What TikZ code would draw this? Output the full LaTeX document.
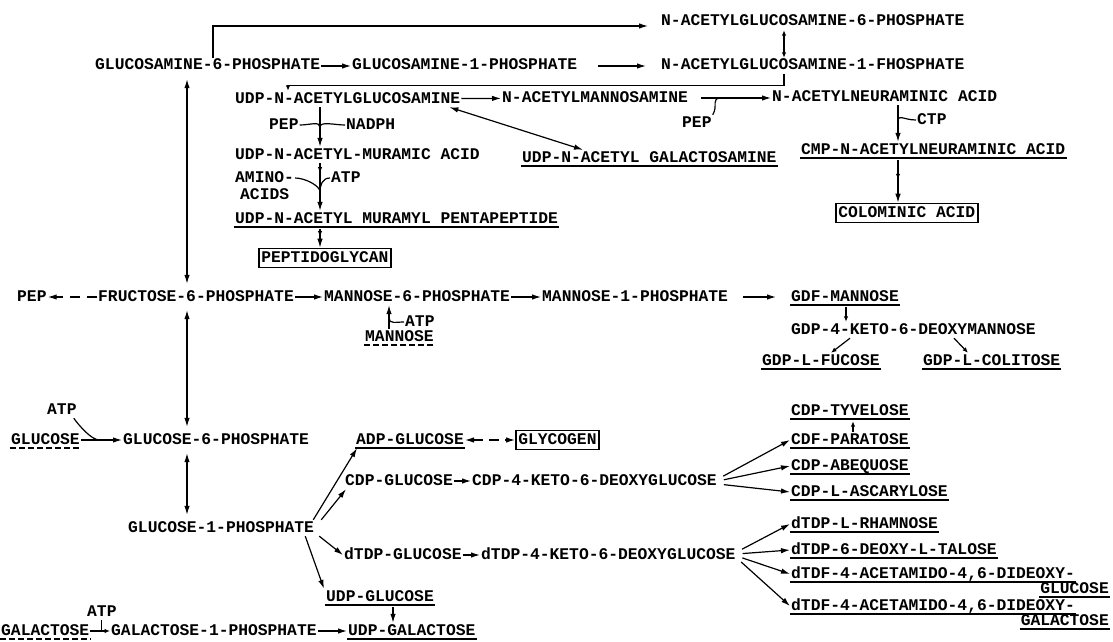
\documentclass[tikz,border=0pt]{standalone}
\usepackage{fontspec}
\setmonofont{Liberation Mono}
\usetikzlibrary{arrows.meta,decorations.markings}

\begin{document}
\begin{tikzpicture}[x=1pt, y=-1pt,
    every node/.style={font=\ttfamily\bfseries\fontsize{16.3}{18}\selectfont, inner sep=1pt, text height=11pt, text depth=3pt, anchor=west},
    box/.style={draw, line width=1.6pt, inner sep=2.5pt},
    arr/.style={-{Latex[length=9pt,width=5.5pt]}, line width=1.2pt},
    sarr/.style={-{Latex[length=5.5pt,width=4.5pt]}, line width=1.2pt},
    darr/.style={{Latex[length=9pt,width=5.5pt]}-{Latex[length=9pt,width=5.5pt]}, line width=1.2pt},
    sdarr/.style={{Latex[length=5.5pt,width=4.5pt]}-{Latex[length=5.5pt,width=4.5pt]}, line width=1.2pt},
    mid/.style={postaction={decorate}, decoration={markings, mark=at position #1 with {\arrow{Latex[length=5.5pt,width=4.5pt]}}}},
    feed/.style={line width=1.2pt},
    ul/.style={line width=1.6pt},
    dul/.style={line width=1.6pt, dash pattern=on 6pt off 3pt}]
    \useasboundingbox (0,0) rectangle (1113,642);

    % amino sugars
    \node (nag6p) at (660,22) {N-ACETYLGLUCOSAMINE-6-PHOSPHATE};
    \node (gn6p) at (94,66) {GLUCOSAMINE-6-PHOSPHATE};
    \node (gn1p) at (351,66) {GLUCOSAMINE-1-PHOSPHATE};
    \node (nag1p) at (660,66) {N-ACETYLGLUCOSAMINE-1-FHOSPHATE};
    \node (udpgnac) at (234,99) {UDP-N-ACETYLGLUCOSAMINE};
    \node (naman) at (501,98) {N-ACETYLMANNOSAMINE};
    \node (nana) at (771,97) {N-ACETYLNEURAMINIC ACID};
    \node (pepa) at (681,123) {PEP};
    \node (ctp) at (916,120) {CTP};
    \node (pepb) at (268,125) {PEP};
    \node (nadph) at (345,125) {NADPH};
    \node (udpmur) at (234,155) {UDP-N-ACETYL-MURAMIC ACID};
    \node (udpgalnac) at (521,158) {UDP-N-ACETYL GALACTOSAMINE};
    \node (cmpnana) at (800,150) {CMP-N-ACETYLNEURAMINIC ACID};
    \node (amino) at (234,178) {AMINO-};
    \node (acids) at (239,195) {ACIDS};
    \node (atpb) at (330,178) {ATP};
    \node (udpmpp) at (234,219) {UDP-N-ACETYL MURAMYL PENTAPEPTIDE};
    \node[box] (pgn) at (258,258) {PEPTIDOGLYCAN};
    \node[box] (colom) at (835,213) {COLOMINIC ACID};

    % mannose
    \node (pepc) at (16,297) {PEP};
    \node (f6p) at (97,297) {FRUCTOSE-6-PHOSPHATE};
    \node (m6p) at (323,297) {MANNOSE-6-PHOSPHATE};
    \node (m1p) at (541,297) {MANNOSE-1-PHOSPHATE};
    \node (gdpman) at (790,297) {GDF-MANNOSE};
    \node (atpm) at (404,322) {ATP};
    \node (man) at (364,337) {MANNOSE};
    \node (gdpkdm) at (790,330) {GDP-4-KETO-6-DEOXYMANNOSE};
    \node (gdpfuc) at (761,361) {GDP-L-FUCOSE};
    \node (gdpcol) at (922,361) {GDP-L-COLITOSE};

    % glucose
    \node (atpg) at (46,410) {ATP};
    \node (gluc) at (10,440) {GLUCOSE};
    \node (g6p) at (122,440) {GLUCOSE-6-PHOSPHATE};
    \node (adpg) at (355,440) {ADP-GLUCOSE};
    \node[box] (glyc) at (515,440) {GLYCOGEN};
    \node (tyv) at (790,411) {CDP-TYVELOSE};
    \node (par) at (790,440) {CDF-PARATOSE};
    \node (abe) at (790,466) {CDP-ABEQUOSE};
    \node (asc) at (790,492) {CDP-L-ASCARYLOSE};
    \node (cdpg) at (344,481) {CDP-GLUCOSE};
    \node (cdpkdg) at (471,481) {CDP-4-KETO-6-DEOXYGLUCOSE};
    \node (g1p) at (127,528) {GLUCOSE-1-PHOSPHATE};
    \node (dtdpg) at (343,555) {dTDP-GLUCOSE};
    \node (dtdpkdg) at (480,555) {dTDP-4-KETO-6-DEOXYGLUCOSE};
    \node (rham) at (790,524) {dTDP-L-RHAMNOSE};
    \node (tal) at (790,550) {dTDP-6-DEOXY-L-TALOSE};
    \node (glcn) at (790,574) {dTDF-4-ACETAMIDO-4,6-DIDEOXY-};
    \node[anchor=east] (glcn2) at (1110,589) {GLUCOSE};
    \node (galn) at (790,606) {dTDF-4-ACETAMIDO-4,6-DIDEOXY-};
    \node[anchor=east] (galn2) at (1110,621) {GALACTOSE};
    \node (udpg) at (325,597) {UDP-GLUCOSE};

    % galactose
    \node (atpgal) at (86,612) {ATP};
    \node (gal) at (0,631) {GALACTOSE};
    \node (gal1p) at (110,631) {GALACTOSE-1-PHOSPHATE};
    \node (udpgal) at (347,631) {UDP-GALACTOSE};

    % underlines
    \foreach \n in {udpgalnac, cmpnana, udpmpp, gdpman, gdpfuc, gdpcol, adpg, tyv, par, abe, asc,
                    rham, tal, glcn, glcn2, galn, galn2, udpg, udpgal}
        \draw[ul] (\n.south west) -- (\n.south east);
    \foreach \n in {man, gluc, gal}
        \draw[dul] (\n.south west) -- (\n.south east);

    % columns
    \coordinate (vx) at (187,0);
    \coordinate (cgn) at (213,0);
    \coordinate (nx) at (784,0);
    \coordinate (ux) at (320,0);
    \coordinate (cx) at (898,0);
    \coordinate (mx) at (389,0);
    \coordinate (gx) at (846,0);
    \coordinate (tx) at (853,0);
    \coordinate (gux) at (393,0);

    % top part
    \draw[arr, shorten >=12pt] (gn6p.north -| cgn) |- ([yshift=-4pt]nag6p.west);
    \draw[arr] (gn6p) -- (gn1p);
    \draw[arr, shorten <=20pt, shorten >=14pt] (gn1p.east) -- (gn1p.east -| nag1p.west);
    \draw[sdarr] (nag6p.south -| nx) -- (nag1p.north -| nx);
    \draw[sarr] (nag1p.south -| nx) -- ++(0,11) -| ([xshift=54pt]udpgnac.north west);
    \draw[arr] (udpgnac) -- (naman);
    \draw[arr, shorten <=12pt] (naman.east) -- coordinate[pos=0.4] (jn1) (naman.east -| nana.west);
    \draw[feed] (pepa.north east) .. controls +(6,-10) and +(-12,0) .. (jn1);
    \draw[darr] ([xshift=-12pt]udpgnac.south east) -- ([xshift=62pt]udpgalnac.north west);
    \draw[arr] (nana.south -| cx) -- coordinate[pos=0.45] (jc) (cmpnana.north -| cx);
    \draw[feed] (ctp.west) .. controls +(-12,0) and +(0,-8) .. (jc);
    \draw[arr, mid=0.45] ([yshift=-2pt]cmpnana.south -| cx) -- (colom.north -| cx);
    \draw[arr] (udpgnac.south -| ux) -- coordinate[pos=0.5] (jp) (udpmur.north -| ux);
    \draw[feed] (pepb.east) .. controls +(10,0) and +(0,-6) .. (jp);
    \draw[feed] (nadph.west) .. controls +(-10,0) and +(0,-6) .. (jp);
    \draw[arr, mid=0.2] (udpmur.south -| ux) -- coordinate[pos=0.6] (ja) (udpmpp.north -| ux);
    \draw[feed] (amino.east) .. controls +(10,0) and +(0,-6) .. (ja);
    \draw[feed] (atpb.west) .. controls +(-8,0) and +(0,-6) .. (ja);
    \draw[arr, mid=0.4] ([yshift=-2pt]udpmpp.south -| ux) -- (pgn.north -| ux);

    % middle rows
    \draw[darr, shorten <=5pt, shorten >=5pt] (gn6p.south -| vx) -- (f6p.north -| vx);
    \draw[arr, dash pattern=on 10pt off 7pt] (f6p) -- (pepc);
    \draw[arr] (f6p) -- (m6p);
    \draw[arr] (m6p) -- (m1p);
    \draw[arr, shorten <=14pt, shorten >=14pt] (m1p) -- (gdpman);
    \draw[arr] (man.north -| mx) -- coordinate[pos=0.45] (jm) (m6p.south -| mx);
    \draw[feed] (atpm.west) .. controls +(-8,0) and +(0,6) .. (jm);
    \draw[sarr] ([yshift=-2pt]gdpman.south -| gx) -- (gdpkdm.north -| gx);
    \draw[sarr] ([xshift=60pt]gdpkdm.south west) -- ([xshift=70pt]gdpfuc.north west);
    \draw[sarr] ([xshift=164pt]gdpkdm.south west) -- ([xshift=46pt]gdpcol.north west);

    % glucose rows
    \draw[darr, shorten <=5pt, shorten >=5pt] (f6p.south -| vx) -- (g6p.north -| vx);
    \draw[darr, shorten <=5pt, shorten >=5pt] (g6p.south -| vx) -- (g1p.north -| vx);
    \draw[arr] (gluc) -- coordinate[pos=0.45] (jg) (g6p);
    \draw[feed] ([xshift=-4pt]atpg.south east) .. controls +(5,7) and +(-8,0) .. (jg);
    \draw[darr, dash pattern=on 10pt off 6pt] (adpg) -- (glyc);
    \draw[arr] ([xshift=-2pt]g1p.north east) -- ([xshift=2pt]adpg.south west);
    \draw[arr] ([xshift=6pt]g1p.north east) -- ([xshift=2pt]cdpg.south west);
    \draw[arr] (cdpg) -- (cdpkdg);
    \draw[sarr] (par.north -| tx) -- ([yshift=-2pt]tyv.south -| tx);
    \draw[arr, shorten <=6pt] ([yshift=2pt]cdpkdg.east) -- (par.west);
    \draw[arr, shorten <=6pt] (cdpkdg.east) -- (abe.west);
    \draw[arr, shorten <=6pt] ([yshift=-3pt]cdpkdg.east) -- (asc.west);
    \draw[arr] ([xshift=4pt]g1p.south east) -- (dtdpg.west);
    \draw[arr] ([xshift=-10pt]g1p.south east) -- ([xshift=-1pt]udpg.north west);
    \draw[arr] (dtdpg) -- (dtdpkdg);
    \draw[arr, shorten <=6pt] ([yshift=3pt]dtdpkdg.east) -- (rham.west);
    \draw[arr, shorten <=6pt] ([yshift=1pt]dtdpkdg.east) -- (tal.west);
    \draw[arr, shorten <=6pt] ([yshift=-1pt]dtdpkdg.east) -- (glcn.west);
    \draw[arr, shorten <=6pt] ([yshift=-3pt]dtdpkdg.east) -- (galn.west);

    % galactose
    \draw[arr] ([yshift=-2pt]udpg.south -| gux) -- (udpgal.north -| gux);
    \draw[feed] (gal.east) -- (atpgal.south |- gal.east);
    \draw[sarr] (atpgal.south) |- (gal1p.west);
    \draw[arr] (gal1p) -- (udpgal);
\end{tikzpicture}
\end{document}
